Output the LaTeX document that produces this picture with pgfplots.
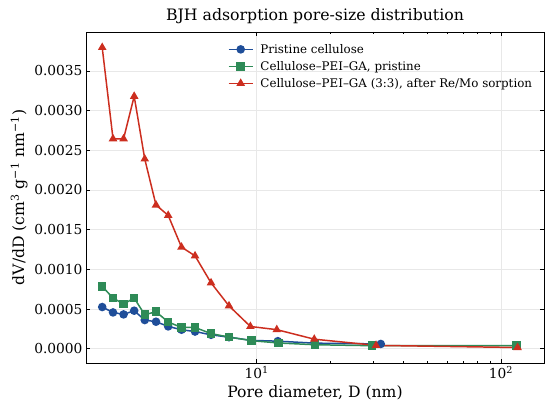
\documentclass[border=0pt]{standalone}
\usepackage{pgfplots}
\pgfplotsset{compat=1.18}
\usepackage{fontspec}
\setmainfont{DejaVu Serif}
\definecolor{cblue}{HTML}{1F4E99}
\definecolor{cgreen}{HTML}{2E8B57}
\definecolor{cred}{HTML}{CC2E1F}
\begin{document}
\begin{tikzpicture}
\path[use as bounding box] (0,0) rectangle (550bp,408bp);
\begin{axis}[
  at={(86bp,45bp)}, anchor=south west,
  width=458bp, height=331bp, scale only axis,
  xmode=log, xmin=2, xmax=150,
  ymin=-0.00018, ymax=0.00399,
  xtick={10,100}, xticklabels={10\textsuperscript{1},10\textsuperscript{2}},
  ytick={0,0.0005,0.001,0.0015,0.002,0.0025,0.003,0.0035},
  scaled y ticks=false,
  yticklabel style={/pgf/number format/.cd, fixed, fixed zerofill, precision=4},
  /pgf/number format/assume math mode=true,
  tick align=inside, tick pos=both,
  major tick length=4bp, minor tick length=2.2bp,
  every tick/.style={black, line width=0.6pt},
  axis line style={line width=0.8pt},
  grid=major, major grid style={draw=black!9, line width=0.6pt},
  ticklabel style={font=\fontsize{13.8}{15}\selectfont},
  title={BJH adsorption pore-size distribution},
  title style={font=\fontsize{15.8}{18}\selectfont, yshift=-1bp},
  xlabel={Pore diameter, D (nm)},
  ylabel={dV/dD (cm\textsuperscript{3} g\textsuperscript{−1} nm\textsuperscript{−1})},
  label style={font=\fontsize{15.7}{18}\selectfont},
  legend style={at={(0.303,0.976)}, anchor=north west, draw=none, fill=none,
    font=\fontsize{11.9}{13}\selectfont, row sep=2.5bp,
    /tikz/every odd column/.append style={column sep=5bp}},
  legend cell align=left,
  legend image code/.code={\draw[mark repeat=2,mark phase=2] plot coordinates {(0bp,0bp) (12bp,0bp) (24bp,0bp)};},
  every axis plot/.append style={line width=1.5pt, mark size=3.5bp,
    every mark/.append style={line width=0.45pt, draw=black!75}},
]
\addplot[cblue, mark=*, mark options={fill=cblue}] coordinates {
(2.33,0.000525) (2.58,0.000457) (2.85,0.000432) (3.15,0.000479) (3.48,0.000361)
(3.87,0.000340) (4.34,0.000281) (4.92,0.000239) (5.59,0.000216) (6.50,0.000175)
(7.70,0.000145) (9.50,0.000105) (12.2,0.000095) (17.3,0.000070) (32.2,0.000060)
};
\addlegendentry{Pristine cellulose}
\addplot[cgreen, mark=square*, mark options={fill=cgreen}] coordinates {
(2.33,0.000785) (2.58,0.000638) (2.85,0.000563) (3.15,0.000638) (3.48,0.000428)
(3.87,0.000466) (4.34,0.000336) (4.92,0.000268) (5.59,0.000268) (6.50,0.000190)
(7.70,0.000147) (9.54,0.000101) (12.3,0.000072) (17.3,0.000050) (29.6,0.000038)
(115.6,0.000040)
};
\addlegendentry{Cellulose–PEI–GA, pristine}
\addplot[cred, mark=triangle*, mark options={fill=cred}] coordinates {
(2.33,0.003795) (2.58,0.002645) (2.85,0.002645) (3.15,0.003180) (3.48,0.002390)
(3.87,0.001810) (4.34,0.001680) (4.92,0.001280) (5.59,0.001170) (6.50,0.000830)
(7.70,0.000540) (9.42,0.000280) (12.08,0.000240) (17.2,0.000120) (30.8,0.000042)
(116.9,0.000015)
};
\addlegendentry{Cellulose–PEI–GA (3:3), after Re/Mo sorption}
\end{axis}
\end{tikzpicture}
\end{document}
